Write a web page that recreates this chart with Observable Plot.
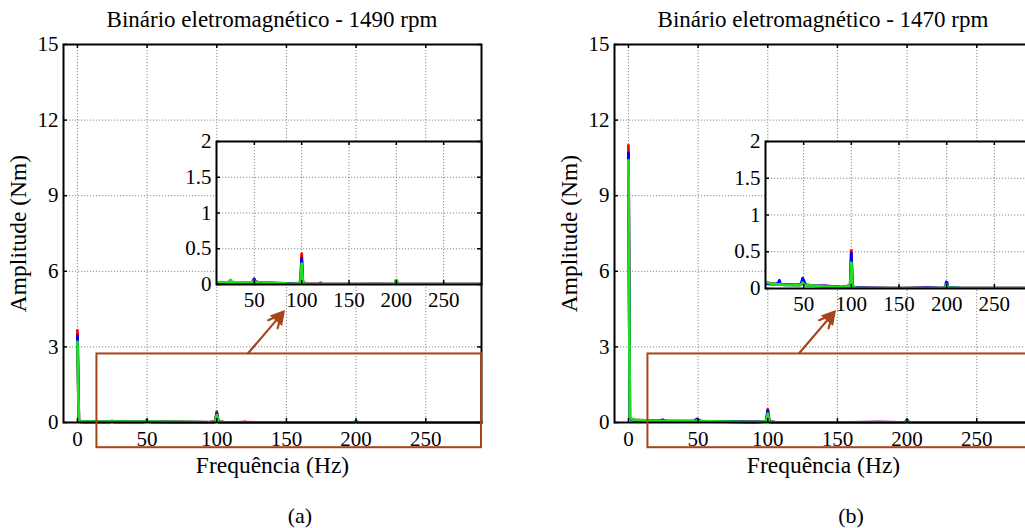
<!DOCTYPE html>
<html><head><meta charset="utf-8">
<script src="https://cdn.jsdelivr.net/npm/d3@7"></script>
<script src="https://cdn.jsdelivr.net/npm/@observablehq/plot@0.6"></script>
<style>
html,body{margin:0;padding:0;background:#fff;overflow:hidden}
#root{position:relative;width:1025px;height:528px;overflow:hidden;font-family:"Liberation Serif","Times New Roman",serif;color:#000}
.plot{position:absolute}
.title{position:absolute;font-size:23px;line-height:1;text-align:center;white-space:nowrap}
.cap{position:absolute;font-size:22px;line-height:1;text-align:center}
</style></head><body><div id="root"></div>
<script>
// ---------------- data ----------------
const titles = ["Binário eletromagnético - 1490 rpm", "Binário eletromagnético - 1470 rpm"];
const captions = ["(a)", "(b)"];
const xLabel = "Frequência (Hz)";
const yLabel = "Amplitude (Nm)";
const mainXTicks = [0, 50, 100, 150, 200, 250];
const mainYTicks = [0, 3, 6, 9, 12, 15];
const insetXTicks = [50, 100, 150, 200, 250];
const insetYTicks = [0, 0.5, 1, 1.5, 2];
const seriesColors = ["#ff0000", "#0000ff", "#1fe01f"];

// Panel (a) 1490 rpm
const freqA = [0, 1, 2, 5, 10, 15, 20, 23.5, 24.8, 26, 30, 40, 47.5, 48.8, 49.8, 51, 55, 65, 75, 85, 95, 98.8, 99.5, 100, 100.5, 101.2, 105, 115, 119, 120, 121, 140, 160, 180, 195, 198.8, 199.6, 200.4, 201.2, 215, 240, 265, 290];
const redA   = [3.65, 0.12, 0.04, 0.03, 0.03, 0.03, 0.03, 0.03, 0.05, 0.03, 0.03, 0.03, 0.03, 0.05, 0.08, 0.04, 0.03, 0.025, 0.02, 0.015, 0.01, 0.03, 0.25, 0.43, 0.25, 0.03, 0.01, 0.008, 0.01, 0.025, 0.01, 0.006, 0.006, 0.008, 0.006, 0.01, 0.05, 0.05, 0.01, 0.005, 0.005, 0.004, 0.004];
const blueA  = [3.45, 0.10, 0.03, 0.025, 0.025, 0.025, 0.025, 0.03, 0.05, 0.03, 0.025, 0.025, 0.025, 0.05, 0.075, 0.035, 0.025, 0.02, 0.015, 0.012, 0.008, 0.03, 0.22, 0.37, 0.22, 0.03, 0.008, 0.006, 0.006, 0.01, 0.006, 0.005, 0.005, 0.005, 0.005, 0.01, 0.04, 0.04, 0.01, 0.004, 0.004, 0.004, 0.004];
const greenA = [3.2, 0.12, 0.04, 0.03, 0.03, 0.03, 0.03, 0.035, 0.065, 0.035, 0.03, 0.03, 0.03, 0.04, 0.05, 0.035, 0.03, 0.025, 0.02, 0.012, 0.008, 0.03, 0.18, 0.29, 0.18, 0.03, 0.008, 0.006, 0.006, 0.008, 0.006, 0.005, 0.005, 0.006, 0.005, 0.01, 0.06, 0.06, 0.01, 0.004, 0.004, 0.004, 0.004];

// Panel (b) 1470 rpm
const freqB = [0, 1, 2, 5, 10, 15, 20, 23.3, 24.5, 25.7, 30, 40, 46.5, 48, 49, 50, 52, 60, 70, 80, 90, 98.8, 99.5, 100, 100.5, 101.2, 105, 120, 140, 160, 180, 195, 198.8, 199.6, 200.4, 201.2, 215, 240, 265, 290];
const redB   = [11.0, 0.2, 0.12, 0.1, 0.08, 0.07, 0.06, 0.06, 0.08, 0.06, 0.055, 0.05, 0.05, 0.07, 0.1, 0.08, 0.05, 0.04, 0.035, 0.03, 0.02, 0.04, 0.3, 0.52, 0.3, 0.03, 0.01, 0.008, 0.006, 0.006, 0.01, 0.006, 0.01, 0.06, 0.06, 0.01, 0.005, 0.005, 0.004, 0.004];
const blueB  = [10.7, 0.18, 0.1, 0.08, 0.07, 0.06, 0.06, 0.07, 0.11, 0.06, 0.05, 0.05, 0.05, 0.09, 0.14, 0.11, 0.05, 0.04, 0.035, 0.03, 0.02, 0.04, 0.28, 0.48, 0.28, 0.03, 0.01, 0.008, 0.006, 0.006, 0.01, 0.006, 0.015, 0.09, 0.08, 0.015, 0.005, 0.006, 0.004, 0.004];
const greenB = [10.4, 0.2, 0.13, 0.1, 0.09, 0.07, 0.06, 0.055, 0.06, 0.055, 0.05, 0.045, 0.045, 0.06, 0.08, 0.06, 0.045, 0.04, 0.03, 0.025, 0.015, 0.04, 0.22, 0.35, 0.22, 0.03, 0.008, 0.006, 0.005, 0.005, 0.006, 0.005, 0.01, 0.05, 0.05, 0.01, 0.004, 0.004, 0.004, 0.004];

// zoom-region annotation (data units of main chart)
const zoomBox = {x1: 14, x2: 290, y1: -1.0, y2: 2.72};
const zoomArrow = {x1: 122.5, y1: 2.75, x2: 146.5, y2: 4.3};

// ---------------- layout ----------------
const FONT = '"Liberation Serif","Times New Roman",serif';
const ORANGE = "#a8441a";
const GRID = {stroke: "#8a8a8a", strokeOpacity: 1, strokeDasharray: "1.2,1.8", strokeWidth: 1};
const fmt = d => String(d);

const panels = [
  {freq: freqA, series: [redA, blueA, greenA], left: 0, insetLeft: 176, insetH: 183, titleC: 272, capC: 300},
  {freq: freqB, series: [redB, blueB, greenB], left: 551, insetLeft: 725, insetH: 187, titleC: 823, capC: 851}
];

const root = document.getElementById("root");

function rows(freq, vals) { return freq.map((f, i) => ({f, a: vals[i]})); }

function lineMarks(p, clip) {
  return p.series.map((vals, k) =>
    Plot.line(rows(p.freq, vals), {x: "f", y: "a", stroke: seriesColors[k], strokeWidth: 2.8, clip, curve: "linear"})
  );
}

function tickMarks(xt, yt, innerW, innerH, len) {
  return [
    Plot.tickX(xt, {x: d => d, insetTop: innerH - len, stroke: "#000", strokeWidth: 1.5}),
    Plot.tickX(xt, {x: d => d, insetBottom: innerH - len, stroke: "#000", strokeWidth: 1.5}),
    Plot.tickY(yt, {y: d => d, insetRight: innerW - len, stroke: "#000", strokeWidth: 1.5}),
    Plot.tickY(yt, {y: d => d, insetLeft: innerW - len, stroke: "#000", strokeWidth: 1.5})
  ];
}

panels.forEach((p, idx) => {
  // main chart
  const W = 500, H = 480, mL = 63, mR = 19, mT = 44, mB = 58;
  const innerW = W - mL - mR, innerH = H - mT - mB;
  const angle = Math.atan2(40, 34);
  const main = Plot.plot({
    width: W, height: H, marginLeft: mL, marginRight: mR, marginTop: mT, marginBottom: mB,
    style: {fontFamily: FONT, fontSize: "21px", background: "transparent", color: "#000", overflow: "visible"},
    x: {domain: [-10, 290]},
    y: {domain: [0, 15]},
    marks: [
      Plot.gridX(mainXTicks, GRID),
      Plot.gridY(mainYTicks, GRID),
      ...lineMarks(p, false),
      Plot.frame({stroke: "#000", strokeWidth: 2}),
      ...tickMarks(mainXTicks, mainYTicks, innerW, innerH, 4),
      Plot.axisX(mainXTicks, {tickSize: 0, tickPadding: 9, tickFormat: fmt, label: null}),
      Plot.axisY(mainYTicks, {tickSize: 0, tickPadding: 5, tickFormat: fmt, label: null}),
      Plot.axisX([], {label: xLabel, labelAnchor: "center", labelOffset: 50, labelArrow: "none", fontSize: "23.5px"}),
      Plot.axisY([], {label: yLabel, labelAnchor: "center", labelOffset: 54, labelArrow: "none", fontSize: "23.5px"}),
      Plot.rect([zoomBox], {x1: "x1", x2: "x2", y1: "y1", y2: "y2", fill: "none", stroke: ORANGE, strokeWidth: 2}),
      Plot.arrow([zoomArrow], {x1: "x1", y1: "y1", x2: "x2", y2: "y2", stroke: ORANGE, strokeWidth: 2.2, headLength: 10, headAngle: 50}),
      Plot.dot([zoomArrow], {x: "x2", y: "y2", symbol: "triangle", r: 5, fill: ORANGE, stroke: ORANGE,
        rotate: 90 - angle * 180 / Math.PI, dx: -Math.cos(angle) * 4, dy: Math.sin(angle) * 4})
    ]
  });
  main.classList.add("plot");
  main.style.left = p.left + "px";
  main.style.top = "0px";
  root.appendChild(main);

  // inset chart
  const iW = idx === 0 ? 315 : 317, iH = p.insetH, iL = 40, iR = 10, iT = 10, iB = 30;
  const inset = Plot.plot({
    width: iW, height: iH, marginLeft: iL, marginRight: iR, marginTop: iT, marginBottom: iB,
    style: {fontFamily: FONT, fontSize: "21px", background: "transparent", color: "#000", overflow: "visible"},
    x: {domain: [10, 290]},
    y: {domain: [0, 2]},
    marks: [
      Plot.frame({fill: "white", stroke: "none"}),
      Plot.gridX(insetXTicks, GRID),
      Plot.gridY(insetYTicks, GRID),
      ...lineMarks(p, true),
      Plot.frame({stroke: "#000", strokeWidth: 2}),
      ...tickMarks(insetXTicks, insetYTicks, iW - iL - iR, iH - iT - iB, 4),
      Plot.axisX(insetXTicks, {tickSize: 0, tickPadding: 8, tickFormat: fmt, label: null}),
      Plot.axisY(insetYTicks, {tickSize: 0, tickPadding: 5, tickFormat: fmt, label: null})
    ]
  });
  inset.classList.add("plot");
  inset.style.left = p.insetLeft + "px";
  inset.style.top = "131px";
  root.appendChild(inset);

  // title & caption
  const t = document.createElement("div");
  t.className = "title";
  t.textContent = titles[idx];
  t.style.left = (p.titleC - 250) + "px";
  t.style.width = "500px";
  t.style.top = "8px";
  root.appendChild(t);

  const c = document.createElement("div");
  c.className = "cap";
  c.textContent = captions[idx];
  c.style.left = (p.capC - 50) + "px";
  c.style.width = "100px";
  c.style.top = "505px";
  root.appendChild(c);
});
</script>
</body></html>
